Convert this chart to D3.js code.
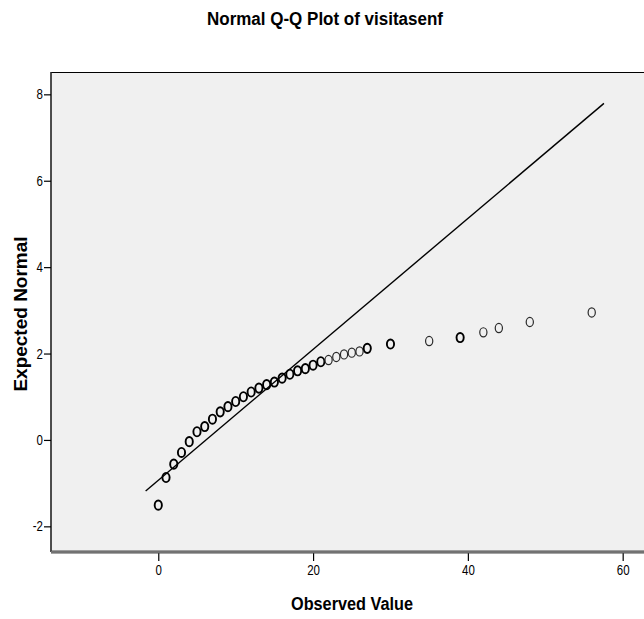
<!DOCTYPE html>
<html>
<head>
<meta charset="utf-8">
<script src="https://cdn.jsdelivr.net/npm/d3@7"></script>
<style>
  body { margin: 0; background: #fff; }
  svg { display: block; }
  .tick text { font-family: "Liberation Sans Narrow", "Liberation Sans", Arial, sans-serif; font-size: 14px; fill: #000; }
</style>
</head>
<body>
<div id="chart"></div>
<script>
const observed = [0, 1, 2, 3, 4, 5, 6, 7, 8, 9, 10, 11, 12, 13, 14, 15, 16, 17, 18, 19,
                  20, 21, 22, 23, 24, 25, 26, 27, 30, 35, 39, 42, 44, 48, 56];
const expected = [-1.51, -0.87, -0.56, -0.29, -0.04, 0.19, 0.31, 0.48, 0.65, 0.77,
                  0.89, 1.00, 1.11, 1.20, 1.28, 1.34, 1.43, 1.52, 1.60, 1.65,
                  1.73, 1.81, 1.85, 1.92, 1.98, 2.02, 2.05, 2.12, 2.22, 2.29,
                  2.37, 2.49, 2.59, 2.73, 2.95];
// points drawn more than once look heavier
const repeated = [1, 1, 1, 1, 1, 1, 1, 1, 1, 1, 1, 1, 1, 1, 1, 1, 1, 1, 1, 1,
                  1, 1, 0, 0, 0, 0, 0, 1, 1, 0, 1, 0, 0, 0, 0];
// reference line end points (x, y)
const lineX = [-1.63, 57.58];
const lineY = [-1.18, 7.79];
const xTicks = [0, 20, 40, 60];
const yTicks = [-2, 0, 2, 4, 6, 8];

const W = 644, H = 619;
const margin = {top: 72, right: 0, bottom: 67, left: 51};
const width = W - margin.left - margin.right + 6,
      height = H - margin.top - margin.bottom;

const x = d3.scaleLinear().domain([-13.86, 63.53]).range([0, width]);
const y = d3.scaleLinear().domain([-2.594, 8.517]).range([height, 0]);

// no narrow font installed -> squeeze text to mimic Arial Narrow
function squeeze(sel, k) {
    sel.each(function() {
        let len = this.getComputedTextLength();
        d3.select(this).attr("textLength", len * k).attr("lengthAdjust", "spacingAndGlyphs");
    });
}

const svg = d3.select("#chart").append("svg")
    .attr("width", W)
    .attr("height", H);

const g = svg.append("g")
    .attr("transform", `translate(${margin.left},${margin.top})`);

// plot background
g.append("rect")
    .attr("width", width)
    .attr("height", height)
    .style("fill", "#f0f0f0");

// frame: top + left
g.append("line").attr("x1", 0).attr("x2", width).attr("y1", 0.5).attr("y2", 0.5)
    .style("stroke", "#000").style("stroke-width", 1.2);
g.append("line").attr("x1", 0).attr("x2", 0).attr("y1", 0).attr("y2", height)
    .style("stroke", "#222").style("stroke-width", 1.6);

// y axis ticks
const yAxis = g.append("g")
    .call(d3.axisLeft(y).tickValues(yTicks).tickSize(7).tickPadding(1).tickFormat(d => String(d)));
yAxis.select(".domain").remove();
yAxis.selectAll(".tick line").style("stroke", "#000").style("stroke-width", 1.2);
squeeze(yAxis.selectAll(".tick text"), 0.82);

// x axis ticks
const xAxis = g.append("g")
    .attr("transform", `translate(0,${height})`)
    .call(d3.axisBottom(x).tickValues(xTicks).tickSize(9).tickPadding(4).tickFormat(d => String(d)));
xAxis.select(".domain").remove();
xAxis.selectAll(".tick line").style("stroke", "#000").style("stroke-width", 1.2);
squeeze(xAxis.selectAll(".tick text"), 0.82);

// bottom double line
g.append("line").attr("x1", 0).attr("x2", width).attr("y1", height).attr("y2", height)
    .style("stroke", "#4a4a4a").style("stroke-width", 3);
g.append("line").attr("x1", 0).attr("x2", width).attr("y1", height).attr("y2", height)
    .style("stroke", "#9a9a9a").style("stroke-width", 1);

// reference line
g.append("line")
    .attr("x1", x(lineX[0])).attr("y1", y(lineY[0]))
    .attr("x2", x(lineX[1])).attr("y2", y(lineY[1]))
    .style("stroke", "#000")
    .style("stroke-width", 1.4);

// points
g.selectAll("ellipse.pt")
    .data(observed)
    .enter().append("ellipse")
    .attr("class", "pt")
    .attr("cx", function(d) { return x(d); })
    .attr("cy", function(d, i) { return y(expected[i]); })
    .attr("rx", 3.6)
    .attr("ry", 4.6)
    .style("fill", "none")
    .style("stroke", function(d, i) { return repeated[i] ? "#000" : "#2a2a2a"; })
    .style("stroke-width", function(d, i) { return repeated[i] ? 1.9 : 1.2; });

// title
svg.append("text")
    .attr("x", 325)
    .attr("y", 25)
    .attr("text-anchor", "middle")
    .attr("textLength", 236)
    .attr("lengthAdjust", "spacingAndGlyphs")
    .style("font-family", "'Liberation Sans Narrow', 'Liberation Sans', Arial, sans-serif")
    .style("font-weight", "bold")
    .style("font-size", "18px")
    .text("Normal Q-Q Plot of visitasenf");

// x label
svg.append("text")
    .attr("x", 352)
    .attr("y", 610)
    .attr("text-anchor", "middle")
    .attr("textLength", 122)
    .attr("lengthAdjust", "spacingAndGlyphs")
    .style("font-family", "'Liberation Sans Narrow', 'Liberation Sans', Arial, sans-serif")
    .style("font-weight", "bold")
    .style("font-size", "18px")
    .text("Observed Value");

// y label
svg.append("text")
    .attr("transform", "translate(27,314) rotate(-90)")
    .attr("text-anchor", "middle")
    .style("font-family", "'Liberation Sans', Arial, sans-serif")
    .style("font-weight", "bold")
    .style("font-size", "19px")
    .text("Expected Normal");
</script>
</body>
</html>
